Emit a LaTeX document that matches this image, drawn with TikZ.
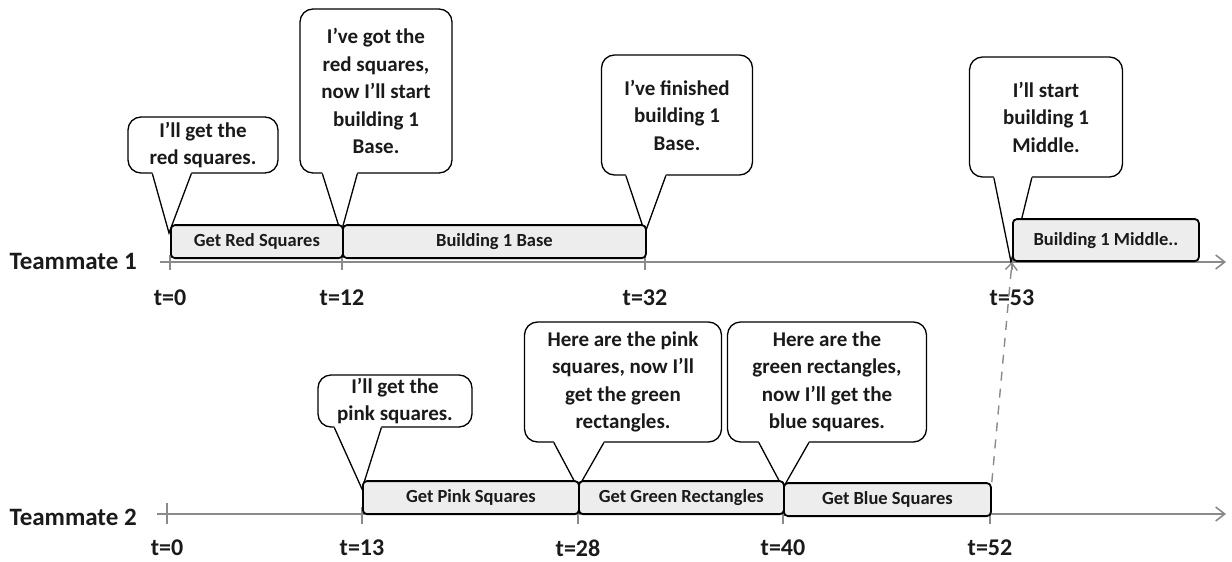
\documentclass[tikz,border=0pt]{standalone}
\usepackage{fontspec}
\setmainfont{Carlito}
\usetikzlibrary{arrows.meta, calc}

\definecolor{inkgray}{HTML}{1A1A1A}
\definecolor{bargray}{HTML}{EDEDED}
\definecolor{axisgray}{HTML}{8A8A8A}

\tikzset{
  axisline/.style={draw=axisgray, line width=1.6pt, -{Straight Barb[length=9pt,width=14pt,line width=1.6pt]}},
  tickline/.style={draw=axisgray, line width=1.2pt},
  taskbar/.style={draw=black, line width=1.8pt, fill=bargray, rounded corners=4pt,
    minimum height=33pt, inner sep=0pt, anchor=south west, text=inkgray,
    font=\bfseries\fontsize{18.5}{20}\selectfont},
  bubble/.style={draw=black, line width=1.3pt, fill=white, rounded corners=13pt,
    inner sep=0pt, align=center, text=inkgray,
    font=\bfseries\fontsize{21}{27.5}\selectfont},
  ticklabel/.style={text=inkgray, font=\bfseries\fontsize{24}{26}\selectfont},
  rowlabel/.style={text=inkgray, font=\bfseries\fontsize{25}{28}\selectfont, anchor=west},
}

% pointer of a speech bubble: bubble, left and right offset from its south west, tip
\newcommand{\bubpointer}[4]{%
  \fill[white] ($(#1.south west)+(#2,-1.5)$) -- (#4) -- ($(#1.south west)+(#3,-1.5)$) -- cycle;
  \draw[black, line width=1.3pt, line join=miter]
    ($(#1.south west)+(#2,0)$) -- (#4) -- ($(#1.south west)+(#3,0)$);
}

\begin{document}
\begin{tikzpicture}[x=1pt, y=-1pt]
    \useasboundingbox (0,0) rectangle (1232,562);

    % Axes
    \coordinate (axAs) at (160,262);
    \coordinate (axAe) at (1226,262);
    \coordinate (axBs) at (158,514);
    \coordinate (axBe) at (1226,514);
    \draw[axisline] (axAs) -- (axAe);
    \draw[axisline] (axBs) -- (axBe);

    \node[rowlabel] (mateA) at (6,261) {Teammate 1};
    \node[rowlabel] (mateB) at (6,517) {Teammate 2};

    % Ticks and times, teammate 1
    \foreach \x/\t in {170/0, 342/12, 645/32, 1012/53} {
        \coordinate (tA\t) at (\x,262);
        \draw[tickline] (\x,255) -- (\x,270);
        \node[ticklabel] (lA\t) at (\x,298) {t=\t};
    }
    % Ticks and times, teammate 2
    \foreach \x/\t in {167/0, 362/13, 578/28, 783/40, 990/52} {
        \coordinate (tB\t) at (\x,514);
        \draw[tickline] (\x,507) -- (\x,524);
        \node[ticklabel] (lB\t) at (\x,548) {t=\t};
    }
    \draw[tickline] (157,514) -- (177,514);
    \draw[tickline] (167,503) -- (167,524);

    % Speech bubbles, teammate 1
    \node[bubble, minimum width=150pt, minimum height=56pt] (bubRed) at (203,145)
        {I’ll get the\\red squares.};
    \node[bubble, minimum width=152pt, minimum height=164pt] (bubBase) at (376,91)
        {I’ve got the\\red squares,\\now I’ll start\\building 1\\Base.};
    \node[bubble, minimum width=151pt, minimum height=120pt] (bubDone) at (677,115)
        {I’ve finished\\building 1\\Base.};
    \node[bubble, minimum width=153pt, minimum height=120pt] (bubMid) at (1046,117)
        {I’ll start\\building 1\\Middle.};
    \bubpointer{bubRed}{25}{64}{169,233}
    \bubpointer{bubBase}{23}{58}{341,233}
    \bubpointer{bubDone}{25}{65}{645,233}
    \bubpointer{bubMid}{25}{63}{1011,262}

    % Speech bubbles, teammate 2
    \node[bubble, minimum width=154pt, minimum height=52pt] (bubPink) at (395,401)
        {I’ll get the\\pink squares.};
    \node[bubble, minimum width=197pt, minimum height=120pt] (bubGreen) at (623,382)
        {Here are the pink\\squares, now I’ll\\get the green\\rectangles.};
    \node[bubble, minimum width=199pt, minimum height=120pt] (bubBlue) at (827,382)
        {Here are the\\green rectangles,\\now I’ll get the\\blue squares.};
    \bubpointer{bubPink}{17}{64}{362,489}
    \bubpointer{bubGreen}{30}{80}{578,488}
    \bubpointer{bubBlue}{32}{82}{783,488}

    % Tasks, teammate 1
    \node[taskbar, minimum width=172pt] (barRed) at (170,259) {Get Red Squares};
    \node[taskbar, minimum width=303pt] (barBase) at (342,259) {Building 1 Base};
    \node[taskbar, minimum width=186pt, minimum height=42pt] (barMid) at (1012,262) {Building 1 Middle..};

    % Tasks, teammate 2
    \node[taskbar, minimum width=216pt] (barPink) at (362,515) {Get Pink Squares};
    \node[taskbar, minimum width=205pt] (barGreen) at (578,515) {Get Green Rectangles};
    \node[taskbar, minimum width=207pt] (barBlue) at (783,517) {Get Blue Squares};

    % Hand-over to teammate 1
    \draw[axisgray, line width=1.4pt, dash pattern=on 9pt off 8pt,
        -{Straight Barb[length=7pt,width=12pt,line width=1.4pt]}]
        (barBlue.north east) -- (tA53);
\end{tikzpicture}
\end{document}
